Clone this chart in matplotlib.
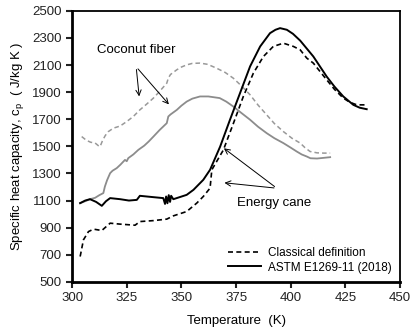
import matplotlib.pyplot as plt

plt.rcParams['font.family'] = ['Liberation Sans', 'DejaVu Sans']
plt.rcParams['font.size'] = 9.5

# coconut fiber, classical definition (gray dashed)
cf_cls_T = [304.4, 306.5, 308.5, 310.5, 312.0, 312.8, 314.0, 315.2, 316.6, 318.9, 322.0,
            325.0, 328.0, 331.0, 334.0, 337.2, 340.0, 343.3, 344.0, 345.0, 347.9, 350.0,
            352.4, 355.0, 358.5, 362.0, 366.0, 370.0, 373.7, 377.5, 381.4, 385.0, 389.0,
            392.5, 396.6, 400.5, 404.3, 406.5, 408.8, 412.0, 415.0, 418.0]
cf_cls_cp = [1572, 1545, 1530, 1525, 1505, 1498, 1545, 1580, 1609, 1634, 1650,
             1683, 1720, 1769, 1810, 1856, 1905, 1966, 2003, 2030, 2065, 2085,
             2101, 2112, 2114, 2105, 2077, 2045, 2003, 1945, 1880, 1805, 1732,
             1668, 1609, 1560, 1524, 1490, 1462, 1452, 1450, 1450]

# coconut fiber, ASTM E1269-11 (gray solid)
cf_astm_T = [303.7, 306.0, 308.2, 310.5, 312.5, 314.3, 315.0, 316.0, 317.4, 318.5, 320.4,
             322.0, 324.2, 325.0, 325.7, 328.0, 330.3, 333.0, 335.0, 337.2, 340.0, 343.3,
             344.0, 345.0, 347.9, 350.0, 352.4, 355.0, 358.5, 362.3, 367.5, 370.5, 373.7,
             377.5, 381.4, 385.0, 389.0, 392.5, 396.6, 400.0, 402.7, 405.0, 407.3, 409.0,
             412.0, 415.0, 418.0]
cf_astm_cp = [1081, 1095, 1110, 1120, 1140, 1155, 1203, 1250, 1302, 1320, 1339,
              1363, 1400, 1390, 1413, 1440, 1474, 1505, 1535, 1572, 1620, 1671,
              1720, 1735, 1769, 1800, 1830, 1852, 1868, 1868, 1856, 1830, 1794,
              1745, 1696, 1645, 1597, 1560, 1524, 1490, 1462, 1440, 1425, 1412,
              1410, 1415, 1420]

# energy cane, classical definition (black dashed)
ec_cls_T = [303.7, 305.2, 307.5, 309.8, 313.6, 317.4, 322.0, 328.8, 331.0, 337.2, 343.3,
            346.3, 352.4, 357.0, 360.0, 363.1, 363.9, 369.2, 373.8, 378.3, 382.9, 387.5,
            392.0, 396.6, 401.2, 404.3, 407.3, 410.3, 416.4, 420.0, 424.0, 427.0, 430.2,
            434.7]
ec_cls_cp = [687, 810, 871, 889, 879, 933, 926, 918, 945, 952, 963,
             987, 1019, 1081, 1130, 1192, 1327, 1474, 1671, 1868, 2040, 2163,
             2237, 2261, 2237, 2212, 2151, 2114, 1991, 1920, 1856, 1825, 1806,
             1806]

# energy cane, ASTM E1269-11 (black solid)
ec_astm_T = [303.7, 306.0, 308.2, 311.0, 313.6, 315.5, 317.4, 322.0, 326.0, 329.6, 331.0,
             337.2, 341.7, 342.5, 343.0, 343.6, 344.2, 344.8, 345.3, 346.3, 352.4, 355.5,
             360.0, 363.1, 367.7, 372.2, 376.8, 381.4, 386.0, 390.5, 393.0, 395.1, 398.2,
             401.0, 404.3, 410.3, 416.4, 420.0, 424.0, 428.6, 431.5, 434.7]
ec_astm_cp = [1081, 1100, 1110, 1090, 1061, 1095, 1118, 1110, 1100, 1105, 1135,
              1125, 1118, 1075, 1130, 1080, 1140, 1090, 1135, 1110, 1142, 1179,
              1253, 1327, 1498, 1696, 1893, 2090, 2237, 2335, 2360, 2372, 2360,
              2330, 2280, 2163, 2015, 1940, 1868, 1806, 1785, 1774]

fig = plt.figure(figsize=(4.19, 3.27), dpi=100)
ax = fig.add_axes([0.172, 0.138, 0.783, 0.829])

ax.plot(cf_cls_T, cf_cls_cp, color='#999999', lw=1.1, ls=(0, (3, 2)))
ax.plot(cf_astm_T, cf_astm_cp, color='#8c8c8c', lw=1.3)
ax.plot(ec_cls_T, ec_cls_cp, color='black', lw=1.2, ls=(0, (3, 2)), label='Classical definition')
ax.plot(ec_astm_T, ec_astm_cp, color='black', lw=1.4, label='ASTM E1269-11 (2018)')

ax.set_xlim(300, 450)
ax.set_ylim(500, 2500)
ax.set_xticks(range(300, 451, 25))
ax.set_yticks(range(500, 2501, 200))
ax.tick_params(direction='out', length=4, width=1.5, colors='#222222', labelsize=9.5)
for s in ['left', 'bottom']:
    ax.spines[s].set_linewidth(2)
for s in ['top', 'right']:
    ax.spines[s].set_linewidth(1.3)

ax.set_xlabel('Temperature  (K)', labelpad=8)
ax.set_ylabel(r'Specific heat capacity, c$_\mathregular{p}$  ( J/kg K )', labelpad=4)

# annotations
arrow = dict(arrowstyle='->', color='black', lw=0.7)
ax.text(311.4, 2212, 'Coconut fiber', va='center', ha='left', fontsize=9.5)
ax.annotate('', xy=(330.8, 1848), xytext=(329.3, 2087), arrowprops=arrow)
ax.annotate('', xy=(345.1, 1794), xytext=(329.3, 2087), arrowprops=arrow)
ax.text(375.3, 1081, 'Energy cane', va='center', ha='left', fontsize=9.5)
ax.annotate('', xy=(368.4, 1233), xytext=(393.6, 1191), arrowprops=arrow)
ax.annotate('', xy=(368.4, 1498), xytext=(393.6, 1191), arrowprops=arrow)

ax.legend(loc='lower right', frameon=False, fontsize=8.5, handlelength=2.8,
          handletextpad=0.6, labelspacing=0.25, borderaxespad=0.3,
          bbox_to_anchor=(1.0, 0.0))

fig.savefig('out.png', dpi=100)
